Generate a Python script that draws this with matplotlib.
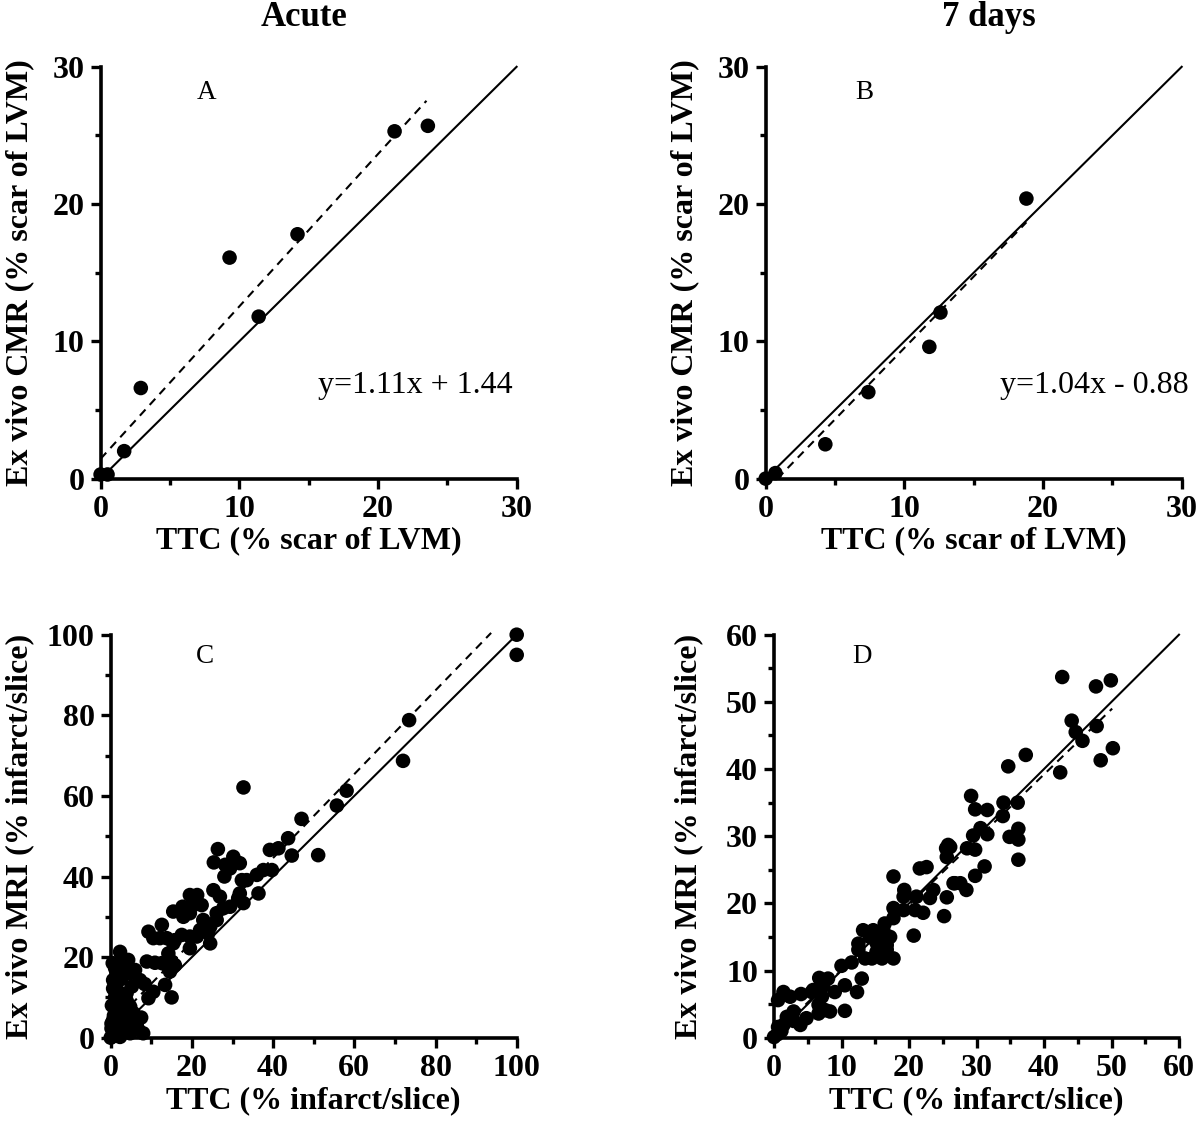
import matplotlib
matplotlib.use("Agg")
import matplotlib.pyplot as plt
import numpy as np
from matplotlib.ticker import MultipleLocator

plt.rcParams['font.family'] = ['Liberation Serif', 'DejaVu Serif']

# ---------------- data ----------------
a_x = [0.0, 0.5, 1.7, 2.9, 9.3, 11.4, 14.2, 21.2, 23.6]
a_y = [0.3, 0.3, 2.0, 6.6, 16.1, 11.8, 17.8, 25.3, 25.7]
a_fit = (1.11, 1.44)
a_fit_range = (0.0, 23.5)

b_x = [0.0, 0.7, 4.3, 7.4, 11.8, 12.6, 18.8]
b_y = [0.0, 0.4, 2.5, 6.3, 9.6, 12.1, 20.4]
b_fit = (1.04, -0.88)
b_fit_range = (0.85, 18.8)

c_x = [100, 100, 73.5, 72, 58.1, 55.7, 32.7, 47.0, 43.7, 44.6, 51.1, 41.3, 39.2,
       39.7, 37.6, 36.0, 33.5, 32.3, 36.4, 31.8, 30.2, 26.4, 25.4, 28.2, 29.4,
       31.8, 28.0, 25.3, 19.5, 21.3, 15.4, 17.7, 20.3, 17.9, 19.5, 22.4, 22.8,
       26.1, 27.7, 29.4, 31.4, 32.7, 26.9, 24.5, 26.1, 22.0, 24.0, 19.5, 19.5,
       17.5, 15.8, 12.6, 9.3, 10.5, 12.1, 13.8, 15.4, 24.5, 21.2, 14.2, 15.0,
       15.8, 13.8, 12.6, 10.9, 8.9, 14.6, 13.4, 15.0, 10.5, 9.3, 8.4, 7.2, 5.2,
       4.8, 6.0, 4.3, 2.3, 2.7, 1.1, 3.1, 8.0, 3.1, 1.1, 4.8, 5.6, 6.4, 5.2,
       2.7, 1.5, 0.6, 0.2, 0.0, 1.5, 3.1, 4.3, 4.8, 1.5, 2.3, 0.6, 0.6, 1.5,
       3.9, 0.3, 0.8, 2.0, 3.5, 1.0, 2.5, 4.0, 0.5, 1.8, 0.2, 1.2, 6.8, 7.5]
c_y = [100, 95, 78.8, 68.7, 61.3, 57.6, 62.1, 54.3, 49.5, 45.2, 45.3, 47.0, 46.6,
       41.6, 41.6, 40.4, 39.1, 39.1, 35.8, 35.8, 44.9, 46.8, 43.5, 42.9, 42.0,
       43.3, 40.0, 36.6, 35.4, 35.4, 31.3, 32.5, 32.9, 30.0, 30.9, 32.9, 29.2,
       30.9, 32.1, 32.5, 34.6, 33.4, 35.0, 27.5, 29.2, 26.7, 25.9, 22.2, 25.1,
       25.5, 24.2, 28.0, 26.3, 24.7, 24.7, 24.7, 23.4, 23.4, 25.1, 20.9, 18.9,
       18.0, 18.0, 18.5, 18.6, 18.9, 16.4, 13.1, 10.0, 11.4, 9.8, 13.3, 14.3, 12.7,
       16.0, 16.8, 19.3, 21.3, 19.3, 17.2, 16.8, 1.1, 9.4, 10.2, 7.7, 6.1, 3.2, 4.4,
       6.1, 6.9, 4.4, 2.3, 0.0, 2.7, 2.7, 1.5, 1.1, 1.1, 0.2, 14.3, 12.2, 16.3,
       11.0, 8.0, 5.5, 8.5, 4.0, 12.0, 14.5, 9.0, 18.5, 11.5, 3.5, 0.5, 2.0, 5.0]
c_fit = (1.04, 3.0)
c_fit_range = (0.0, 93.7)

d_x = [42.7, 47.7, 49.9, 44.1, 47.8, 44.7, 45.7, 50.2, 48.4, 37.3, 34.7, 42.4,
       29.2, 34.0, 36.1, 29.8, 31.6, 33.9, 30.6, 36.2, 29.5, 31.6, 34.9, 36.2,
       28.6, 29.8, 26.1, 36.2, 31.2, 29.8, 28.5, 26.8, 25.5, 25.8, 25.6, 26.6,
       27.6, 25.6, 25.2, 21.6, 22.6, 17.7, 19.3, 21.1, 23.1, 23.6, 19.2, 17.7,
       19.2, 20.9, 22.1, 20.7, 17.7, 16.4, 13.2, 14.7, 16.2, 14.2, 15.7, 17.2,
       12.5, 15.2, 16.7, 12.5, 13.5, 14.5, 16.0, 17.7, 15.2, 16.7, 11.5, 10.0,
       13.0, 12.3, 10.5, 9.0, 6.7, 8.0, 5.8, 7.3, 7.1, 6.6, 7.6, 8.3, 10.5, 6.6,
       4.8, 3.9, 2.9, 2.9, 1.9, 1.4, 0.6, 0.0, 1.1, 0.5, 0.6, 1.4, 2.4, 4.0, 5.6]
d_y = [53.7, 52.3, 53.2, 47.2, 46.4, 45.5, 44.2, 43.1, 41.3, 42.1, 40.4, 39.5,
       36.0, 35.0, 35.0, 34.0, 33.9, 33.0, 31.2, 31.1, 30.1, 30.3, 29.9, 29.5,
       28.2, 28.0, 28.4, 26.5, 25.5, 24.1, 22.0, 23.0, 28.2, 28.7, 26.9, 23.0,
       23.0, 20.9, 18.1, 25.2, 25.4, 24.0, 22.0, 21.0, 20.8, 22.0, 21.0, 19.3,
       19.0, 19.0, 18.6, 15.2, 17.8, 17.0, 16.0, 16.0, 16.0, 15.0, 15.0, 15.0,
       14.0, 14.1, 13.8, 13.1, 11.8, 11.8, 11.8, 11.8, 12.8, 13.1, 11.2, 10.7,
       8.8, 6.8, 7.8, 6.8, 8.9, 8.8, 7.1, 7.7, 6.1, 4.9, 4.1, 3.9, 4.0, 3.6,
       2.9, 1.9, 3.9, 2.5, 3.1, 1.9, 1.6, 0.1, 1.0, 0.5, 5.6, 6.8, 6.1, 6.5, 6.8]
d_fit = (0.97, 0.4)
d_fit_range = (0.0, 50.1)

W, H = 1200, 1140
fig = plt.figure(figsize=(W / 100, H / 100), dpi=100)

def axpos(l, r, t, b):
    return [l / W, 1 - b / H, (r - l) / W, (b - t) / H]

panels = [
    dict(box=(100.6, 516.6, 66.8, 478.6), x=a_x, y=a_y, fit=a_fit, fr=a_fit_range,
         lim=30, major=10, minor=5, letter='A', lxy=(7.67, 28.1),
         eq='y=1.11x + 1.44', exy=(29.7, 6.8), ylx=20, xlo=62,
         xl='TTC (% scar of LVM)', yl='Ex vivo CMR (% scar of LVM)'),
    dict(box=(765.7, 1181.7, 66.8, 478.6), x=b_x, y=b_y, fit=b_fit, fr=b_fit_range,
         lim=30, major=10, minor=5, letter='B', lxy=(7.09, 28.1),
         eq='y=1.04x - 0.88', exy=(30.5, 6.8), ylx=685, xlo=62,
         xl='TTC (% scar of LVM)', yl='Ex vivo CMR (% scar of LVM)'),
    dict(box=(110.7, 516.7, 634.7, 1037.7), x=c_x, y=c_y, fit=c_fit, fr=c_fit_range,
         lim=100, major=20, minor=10, letter='C', lxy=(23.2, 94.7), eq=None,
         ylx=20, xlo=63,
         xl='TTC (% infarct/slice)', yl='Ex vivo MRI (% infarct/slice)'),
    dict(box=(774, 1179, 634.7, 1037.7), x=d_x, y=d_y, fit=d_fit, fr=d_fit_range,
         lim=60, major=10, minor=5, letter='D', lxy=(13.0, 56.8), eq=None,
         ylx=689, xlo=63,
         xl='TTC (% infarct/slice)', yl='Ex vivo MRI (% infarct/slice)'),
]

for p in panels:
    l, r, t, b = p['box']
    ax = fig.add_axes(axpos(l, r, t, b))
    lim = p['lim']
    ax.set_xlim(0, lim)
    ax.set_ylim(0, lim)
    for s in ['top', 'right']:
        ax.spines[s].set_visible(False)
    for s in ['left', 'bottom']:
        ax.spines[s].set_linewidth(2.6)
    ax.xaxis.set_major_locator(MultipleLocator(p['major']))
    ax.yaxis.set_major_locator(MultipleLocator(p['major']))
    ax.xaxis.set_minor_locator(MultipleLocator(p['minor']))
    ax.yaxis.set_minor_locator(MultipleLocator(p['minor']))
    ax.tick_params(which='major', length=7.5, width=2.4, direction='out',
                   labelsize=23)
    ax.tick_params(axis='x', which='major', pad=4)
    ax.tick_params(axis='y', which='major', pad=4)
    ax.tick_params(which='minor', length=4.5, width=2.4, direction='out')
    for lab in ax.get_xticklabels() + ax.get_yticklabels():
        lab.set_fontweight('bold')

    # identity line
    ax.plot([0, lim], [0, lim], color='black', lw=1.5, clip_on=False)
    # regression line
    m, c = p['fit']
    xs = np.array(p['fr'])
    ax.plot(xs, m * xs + c, color='black', lw=1.5, ls=(0, (4, 3)), clip_on=False)

    ax.scatter(p['x'], p['y'], s=110, color='black', edgecolors='none',
               zorder=3, clip_on=False)

    ax.text(p['lxy'][0], p['lxy'][1], p['letter'], fontsize=19.5,
            ha='center', va='center')
    if p['eq']:
        ax.text(p['exy'][0], p['exy'][1], p['eq'], fontsize=23,
                ha='right', va='center')

    # axis titles
    fig.text((l + r) / 2 / W, 1 - (b + p['xlo']) / H, p['xl'], fontsize=23,
             fontweight='bold', ha='center', va='center')
    fig.text(p['ylx'] / W, 1 - (t + b) / 2 / H, p['yl'], fontsize=23,
             fontweight='bold', ha='center', va='center', rotation=90)

fig.text(304 / W, 1 - 18 / H, 'Acute', fontsize=25, fontweight='bold',
         ha='center', va='center')
fig.text(989 / W, 1 - 18 / H, '7 days', fontsize=25, fontweight='bold',
         ha='center', va='center')

fig.savefig('out.png', dpi=100)
